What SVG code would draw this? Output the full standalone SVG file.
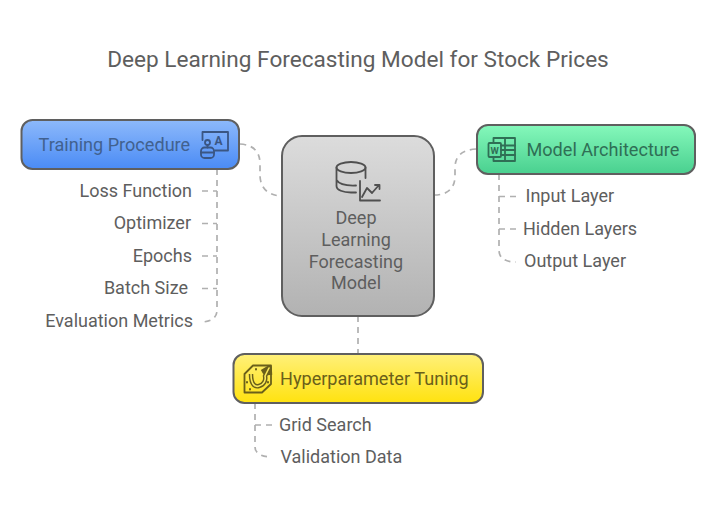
<svg xmlns="http://www.w3.org/2000/svg" width="716" height="512" viewBox="0 0 716 512">
<style>
text{font-family:Roboto,"Liberation Sans",sans-serif;fill:#5e5e5e}
.t{font-size:22.600px}
.h{font-size:18.100px}
.l{font-size:18px}
.m{text-anchor:middle}
.e{text-anchor:end}
.box{stroke:#5f5f5f;stroke-width:2}
.c{fill:none;stroke:#b0b0b0;stroke-width:1.7;stroke-dasharray:6 5}
.i{fill:none;stroke:#4f4f4f;stroke-width:1.800;stroke-linejoin:round;stroke-linecap:round}
</style>
<defs>
<linearGradient id="gb" x1="0" y1="0" x2="0" y2="1"><stop offset="0" stop-color="#8db9fb"/><stop offset="1" stop-color="#4a8bf5"/></linearGradient>
<linearGradient id="gg" x1="0" y1="0" x2="0" y2="1"><stop offset="0" stop-color="#85f8bb"/><stop offset="1" stop-color="#49d08f"/></linearGradient>
<linearGradient id="gy" x1="0" y1="0" x2="0" y2="1"><stop offset="0" stop-color="#fff07a"/><stop offset="1" stop-color="#ffe20f"/></linearGradient>
<linearGradient id="gc" x1="0" y1="0" x2="0" y2="1"><stop offset="0" stop-color="#dcdcdc"/><stop offset="1" stop-color="#b2b2b2"/></linearGradient>
</defs>
<text id="title" class="t m" x="358" y="67">Deep Learning Forecasting Model for Stock Prices</text>
<g id="connectors">
<path class="c" d="M240 144C254 145 260 152 260 164V175C260 188 268 196 283 196"/>
<path class="c" d="M476 149C462 150 455 156 455 168V176C455 188 448 195 434 195"/>
<path class="c" d="M358 316V354"/>
<path class="c" d="M217 169V310C217 318 211 322 200 322"/>
<path class="c" d="M202 191H217M202 223.500H217M202 256H217M202 288.500H217"/>
<path class="c" d="M499 174V250C499 258 505 262 516 262"/>
<path class="c" d="M499 196.500H516M499 229H516"/>
<path class="c" d="M255 403V447C255 453 261 457 272 457"/>
<path class="c" d="M255 425H272"/>
</g>
<g id="node-center">
<rect class="box" x="282" y="136" width="152" height="180" rx="20" fill="url(#gc)"/>
<g class="i">
<ellipse cx="351" cy="167.500" rx="14.500" ry="5.500"/>
<path d="M336.500 167.500V186C336.500 190 343 192.500 351 192.500H356M336.500 180C339 184 345 186 356 185.500M365.500 167.500V178"/>
<path d="M360 181V200.500H380M362 197L367 188L372 193L379 185M375 185H379.500V189"/>
</g>
<text class="l m" x="356" y="224">Deep</text>
<text class="l m" x="356" y="246">Learning</text>
<text class="l m" x="356" y="268">Forecasting</text>
<text class="l m" x="356" y="289">Model</text>
</g>
<g id="node-training">
<rect class="box" x="21.500" y="120" width="217.500" height="49" rx="11" fill="url(#gb)"/>
<text class="h" x="38.500" y="150.500" style="fill:#41618f">Training Procedure</text>
<g class="i" style="stroke:#3a5683">
<path d="M202.500 140V132H228V150.500H215"/>
<circle cx="207.500" cy="142.500" r="2.500"/>
<path d="M207.500 145V147.500"/>
<rect x="201" y="147.500" width="13" height="10.500" rx="3.500"/>
<path d="M201 152.500H214"/>
</g>
<text x="218.500" y="145" text-anchor="middle" style="font-size:12px;font-weight:700;fill:#3a5683">A</text>
</g>
<g id="list-training">
<text class="l e" x="192" y="196.500">Loss Function</text>
<text class="l e" x="191" y="229">Optimizer</text>
<text class="l e" x="192" y="261.500">Epochs</text>
<text class="l e" x="188" y="294">Batch Size</text>
<text class="l e" x="193" y="327">Evaluation Metrics</text>
</g>
<g id="node-model">
<rect class="box" x="477" y="125" width="218" height="49" rx="11" fill="url(#gg)"/>
<text class="h" x="526.500" y="155.500" style="fill:#2f6f55">Model Architecture</text>
<g class="i" style="stroke:#2f6f55">
<path d="M493.500 143V138H515V161H493.500V157"/>
<rect x="488.500" y="143" width="12.500" height="14" rx="1"/>
<path d="M501 145.500H515M501 150H515M501 155H515M505 138V161"/>
</g>
<text x="494.700" y="154" text-anchor="middle" style="font-size:9.500px;font-weight:700;fill:#2f6f55">W</text>
</g>
<g id="list-model">
<text class="l" x="525.500" y="202">Input Layer</text>
<text class="l" x="523" y="234.500">Hidden Layers</text>
<text class="l" x="524" y="267">Output Layer</text>
</g>
<g id="node-hyper">
<rect class="box" x="233.500" y="354" width="249.500" height="49" rx="11" fill="url(#gy)"/>
<text class="h" x="280" y="384.500" style="fill:#6a5f1a">Hyperparameter Tuning</text>
<g class="i" style="stroke:#6a5f1a">
<path d="M253 365.500H271V384L262 392.500H244.500V374Z"/>
<path d="M251 374C251 386 256 387 259 386C264 385 266 380 265 376L269 368M262 372L269.500 367.500L270 375" stroke-width="4.500" stroke-linecap="butt"/>
<path d="M251 374C251 386 256 387 259 386C264 385 266 380 265 376L269 368" stroke="#fbe95a" stroke-width="1.600" style="stroke:#fbe95a"/>
<path d="M247 382V382.500M250 389V389.500M256 369V369.500M268 382V382.500" stroke-width="2"/>
</g>
</g>
<g id="list-hyper">
<text class="l" x="279" y="431">Grid Search</text>
<text class="l" x="280.500" y="463">Validation Data</text>
</g>
</svg>
